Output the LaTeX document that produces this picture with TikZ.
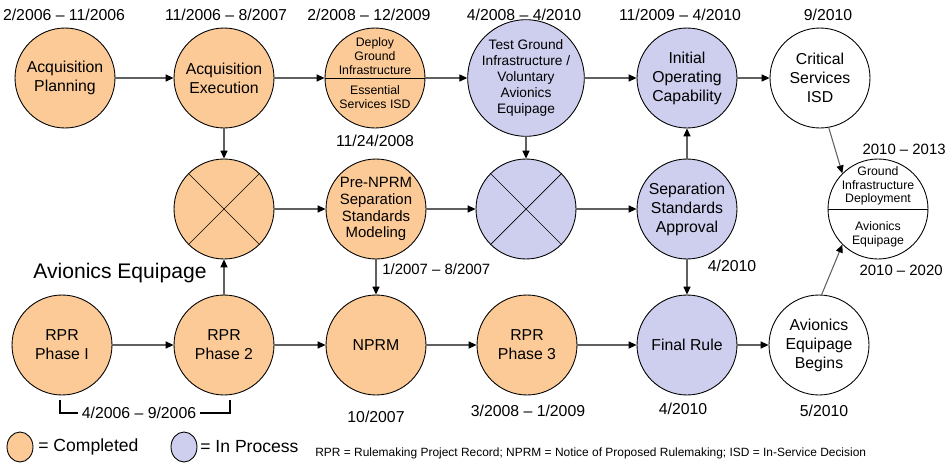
\documentclass[tikz,border=0pt]{standalone}
\usepackage{fontspec}
\setmainfont{Liberation Sans}
\usetikzlibrary{arrows.meta,shapes.geometric}
\definecolor{donefill}{RGB}{252,202,150}
\definecolor{procfill}{RGB}{206,206,238}
\definecolor{flowgray}{RGB}{96,96,96}
\tikzset{
  phase/.style={circle,draw=black,line width=0.5pt,minimum size=2cm,inner sep=0pt,
    align=center,font=\fontsize{9}{10.8}\selectfont},
  completed/.style={phase,fill=donefill},
  inprocess/.style={phase,fill=procfill},
  upcoming/.style={phase,fill=white},
  flow/.style={draw=flowgray,line width=0.6pt,-{Triangle[length=4.5pt,width=4pt,color=black]}},
  datelbl/.style={font=\fontsize{9}{10.8}\selectfont,inner sep=0pt},
  smalltxt/.style={font=\fontsize{7}{7.8}\selectfont,align=center,inner sep=0pt},
  legmark/.style={ellipse,draw=black,line width=0.5pt,minimum width=0.52cm,minimum height=0.6cm,inner sep=0pt},
}

\begin{document}
\begin{tikzpicture}[x=0.02cm,y=-0.02cm]
\useasboundingbox (0,0) rectangle (948,463);
%
% acquisition row
\node [completed] (acqplan) at (65,78) {Acquisition\\Planning};
\node [completed] (acqexec) at (224,78) {Acquisition\\Execution};
\node [completed] (deploy) at (375,78) {};
\node [inprocess,font=\fontsize{7.8}{9}\selectfont] (testgnd) at (526,78) {Test Ground\\Infrastructure /\\Voluntary\\Avionics\\Equipage};
\node [inprocess] (ioc) at (687,78) {Initial\\Operating\\Capability};
\node [upcoming] (critical) at (820,78) {Critical\\Services\\ISD};
%
\path[draw] (deploy.west) -- (deploy.east);
\node [smalltxt] (deploytop) at (375,56) {Deploy\\Ground\\Infrastructure};
\node [smalltxt] (deploybot) at (375,97) {Essential\\Services ISD};
%
% separation row
\node [completed] (merge1) at (224,209) {};
\node [completed,font=\fontsize{8.5}{9.6}\selectfont] (prenprm) at (376,209) {Pre-NPRM\\Separation\\Standards\\Modeling};
\node [inprocess] (merge2) at (526,209) {};
\node [inprocess] (sepstd) at (687,209) {Separation\\Standards\\Approval};
\node [upcoming] (rollout) at (878,209) {};
%
\path[draw] (merge1.45) -- (merge1.225) (merge1.135) -- (merge1.-45);
\path[draw] (merge2.45) -- (merge2.225) (merge2.135) -- (merge2.-45);
\path[draw] (rollout.west) -- (rollout.east);
\node [smalltxt] (rollouttop) at (878,186) {Ground\\Infrastructure\\Deployment};
\node [smalltxt] (rolloutbot) at (878,234) {Avionics\\Equipage};
%
% rulemaking row
\node [completed] (rpr1) at (62,345) {RPR\\Phase I};
\node [completed] (rpr2) at (224,345) {RPR\\Phase 2};
\node [completed] (nprm) at (376,345) {NPRM};
\node [completed] (rpr3) at (527,345) {RPR\\Phase 3};
\node [inprocess] (finalrule) at (687,345) {Final Rule};
\node [upcoming] (avbegin) at (819,345) {Avionics\\Equipage\\Begins};
%
% connectors
\path[flow] (acqplan) -- (acqexec);
\path[flow] (acqexec) -- (deploy);
\path[flow] (deploy) -- (testgnd);
\path[flow] (testgnd) -- (ioc);
\path[flow] (ioc) -- (critical);
\path[flow] (critical.-80) -- (rollout.135);
\path[flow] (acqexec) -- (merge1);
\path[flow] (testgnd) -- (merge2);
\path[flow] (merge1) -- (prenprm);
\path[flow] (prenprm) -- (merge2);
\path[flow] (merge2) -- (sepstd);
\path[flow] (sepstd) -- (ioc);
\path[flow] (sepstd) -- (finalrule);
\path[flow] (prenprm) -- (nprm);
\path[flow] (rpr2) -- (merge1);
\path[flow] (rpr1) -- (rpr2);
\path[flow] (rpr2) -- (nprm);
\path[flow] (nprm) -- (rpr3);
\path[flow] (rpr3) -- (finalrule);
\path[flow] (finalrule) -- (avbegin);
\path[flow] (avbegin.87) -- (rollout.225);
%
% dates
\node [datelbl] (dacqplan) at (64,15) {2/2006 -- 11/2006};
\node [datelbl] (dacqexec) at (226,15) {11/2006 -- 8/2007};
\node [datelbl] (ddeploy) at (369,15) {2/2008 -- 12/2009};
\node [datelbl] (dtestgnd) at (524,15) {4/2008 -- 4/2010};
\node [datelbl] (dioc) at (680,15) {11/2009 -- 4/2010};
\node [datelbl] (dcritical) at (828,15) {9/2010};
\node [datelbl] (ddeploy2) at (375,141) {11/24/2008};
\node [datelbl,anchor=west,font=\fontsize{8.5}{10}\selectfont] (dprenprm) at (382,269) {1/2007 -- 8/2007};
\node [datelbl] (dsepstd) at (732,266) {4/2010};
\node [datelbl,anchor=east,font=\fontsize{8.5}{10}\selectfont] (drollout1) at (946,149) {2010 -- 2013};
\node [datelbl,anchor=east,font=\fontsize{8.5}{10}\selectfont] (drollout2) at (943,270) {2010 -- 2020};
\node [datelbl] (dnprm) at (376,417) {10/2007};
\node [datelbl] (drpr3) at (528,411) {3/2008 -- 1/2009};
\node [datelbl] (dfinal) at (683,409) {4/2010};
\node [datelbl] (davbegin) at (824,411) {5/2010};
%
\node [datelbl,inner xsep=2pt] (drpr) at (139,413) {4/2006 -- 9/2006};
\coordinate (brkl) at (60,400);
\coordinate (brkr) at (230,400);
\path[draw,line width=0.8pt] (brkl) |- (drpr.west);
\path[draw,line width=0.8pt] (drpr.east) -| (brkr);
%
\node [font=\fontsize{12}{14}\selectfont] (avlabel) at (120,273) {Avionics Equipage};
%
% legend
\node [legmark,fill=donefill] (legdone) at (20,447) {};
\node [anchor=west,inner sep=0pt,font=\fontsize{10}{12}\selectfont] (legdonetxt) at (38,447) {= Completed};
\node [legmark,fill=procfill] (legproc) at (184,447) {};
\node [anchor=west,inner sep=0pt,font=\fontsize{10}{12}\selectfont] (legproctxt) at (200,447) {= In Process};
\node [anchor=west,inner sep=0pt,font=\fontsize{6.8}{8}\selectfont] (abbrev) at (315,453) {RPR = Rulemaking Project Record; NPRM = Notice of Proposed Rulemaking; ISD = In-Service Decision};
\end{tikzpicture}
\end{document}
